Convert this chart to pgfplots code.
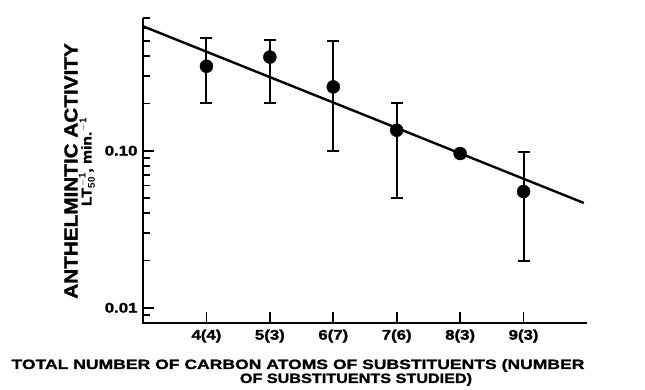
\documentclass[border=0pt]{standalone}
\usepackage{fontspec}
\usepackage{pgfplots}
\pgfplotsset{compat=1.18}
\setmainfont{Liberation Sans}
\newfontfamily\tickfont[FakeStretch=1.2,FakeBold=1.5]{Liberation Sans Bold}
\newfontfamily\xlabA[FakeStretch=1.3,FakeBold=1.5]{Liberation Sans Bold}
\newfontfamily\xlabB[FakeStretch=1.2,FakeBold=1.5]{Liberation Sans Bold}
\newfontfamily\ylabA[FakeStretch=1.12,FakeBold=1.5]{Liberation Sans Bold}
\begin{document}
\begin{tikzpicture}
\begin{axis}[
  at={(0pt,0pt)},
  scale only axis, width=444pt, height=305pt,
  xmin=3, xmax=10,
  ymode=log, ymin=0.008, ymax=0.7,
  axis line style={draw=none},
  tick pos=left,
  tick align=inside,
  major tick length=11pt, minor tick length=7pt,
  every tick/.append style={black, line width=1.8pt},
  xtick={4,5,6,7,8,9},
  xticklabels={4(4),5(3),6(7),7(6),8(3),9(3)},
  xticklabel style={font=\tickfont\fontsize{14}{14}\selectfont, yshift=-3pt},
  ytick={0.01,0.1},
  yticklabels={0.01,0.10},
  minor ytick={0.008,0.009,0.02,0.03,0.04,0.05,0.06,0.07,0.08,0.09,0.2,0.3,0.4,0.5,0.6,0.7},
  yticklabel style={font=\tickfont\fontsize{14}{14}\selectfont, xshift=-2pt},
  clip=false,
]
\draw[line width=2.8pt, black] (rel axis cs:0,1) -- (rel axis cs:0,0) -- (rel axis cs:1,0);
\addplot[black, line width=2.4pt, no marks] coordinates {(3,0.62) (9.95,0.0465)};
\addplot[only marks, mark=*, mark size=6.5pt, black,
  error bars/.cd, y dir=both, y explicit,
  error bar style={line width=2pt, black},
  error mark options={rotate=90, mark size=6pt, line width=2pt, black}]
  table[x=x, y=y, y error plus=ep, y error minus=em] {
x y ep em
4 0.345 0.175 0.145
5 0.395 0.115 0.195
6 0.255 0.245 0.155
7 0.135 0.065 0.085
9 0.055 0.043 0.035
};
\addplot[only marks, mark=*, mark size=6.5pt, black] coordinates {(8,0.096)};
\end{axis}
\node[rotate=90, font=\ylabA\fontsize{18.5}{18.5}\selectfont] at (-72pt,152pt) {ANTHELMINTIC ACTIVITY};
\node[rotate=90, font=\ylabA\fontsize{14}{14}\selectfont] at (-56pt,161pt) {LT$_{\mathbf{50}}^{\,\mathbf{-1}}$, min.$^{\mathbf{-1}}$};
\node[font=\xlabA\fontsize{13.5}{13.5}\selectfont] at (155pt,-42.5pt) {TOTAL NUMBER OF CARBON ATOMS OF SUBSTITUENTS (NUMBER};
\node[font=\xlabB\fontsize{13.5}{13.5}\selectfont] at (213pt,-56.5pt) {OF SUBSTITUENTS STUDIED)};
\path (-143pt,-65pt) rectangle (502pt,323pt);
\end{tikzpicture}
\end{document}
